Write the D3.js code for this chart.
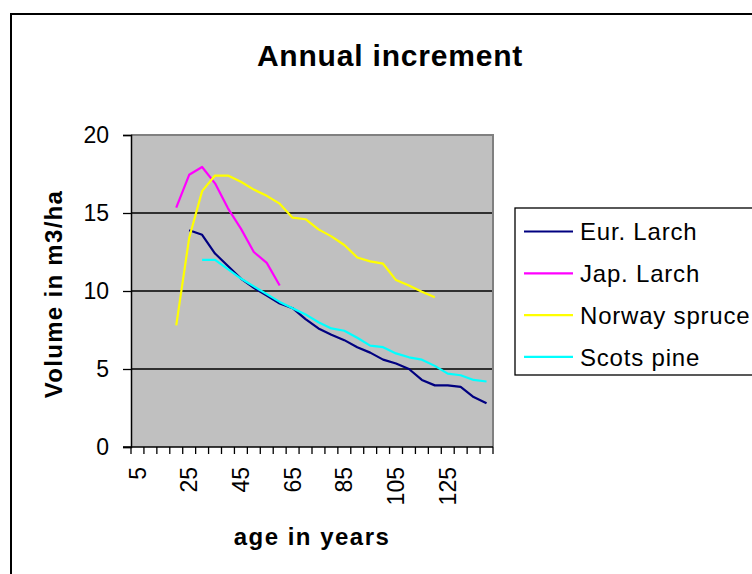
<!DOCTYPE html>
<html>
<head>
<meta charset="utf-8">
<script src="https://d3js.org/d3.v7.min.js"></script>
<style>
  body { margin: 0; background: #fff; }
  text { font-family: Arial, "Liberation Sans", sans-serif; fill: #000; }
</style>
</head>
<body>
<script>
// categories (age in years)
var ages = [5, 10, 15, 20, 25, 30, 35, 40, 45, 50, 55, 60, 65, 70,
            75, 80, 85, 90, 95, 100, 105, 110, 115, 120, 125, 130, 135, 140];
var ageLabels = ['5', '25', '45', '65', '85', '105', '125'];
var yTicks = [0, 5, 10, 15, 20];

// series values, null = no value
var eurLarch = [null, null, null, null, 13.9, 13.6, 12.4, 11.6, 10.8, 10.2, 9.7, 9.2, 8.9, 8.2,
                7.6, 7.2, 6.85, 6.4, 6.05, 5.6, 5.35, 5.0, 4.3, 3.95, 3.95, 3.85, 3.2, 2.8];
var japLarch = [null, null, null, 15.35, 17.45, 17.95, 16.9, 15.3, 14.0, 12.5, 11.8, 10.35, null, null,
                null, null, null, null, null, null, null, null, null, null, null, null, null, null];
var norwaySpruce = [null, null, null, 7.8, 13.4, 16.4, 17.4, 17.4, 17.0, 16.5, 16.1, 15.6, 14.7, 14.6,
                    13.95, 13.5, 12.95, 12.15, 11.9, 11.75, 10.7, 10.35, 9.95, 9.6, null, null, null, null];
var scotsPine = [null, null, null, null, null, 12.0, 12.0, 11.4, 10.8, 10.3, 9.8, 9.3, 8.9, 8.5,
                 8.0, 7.6, 7.45, 7.0, 6.5, 6.4, 6.0, 5.75, 5.6, 5.2, 4.7, 4.6, 4.3, 4.2];

var seriesNames = ['Eur. Larch', 'Jap. Larch', 'Norway spruce', 'Scots pine'];
var seriesColors = ['#000080', '#FF00FF', '#FFFF00', '#00FFFF'];
var seriesValues = [eurLarch, japLarch, norwaySpruce, scotsPine];

var w = 752, h = 574;
var plot = {left: 131, top: 135, right: 493, bottom: 447};

var svg = d3.select('body').append('svg')
  .attr('width', w)
  .attr('height', h);

// outer chart frame (runs off the right and bottom edges)
svg.append('rect')
  .attr('x', 11).attr('y', 14)
  .attr('width', 800).attr('height', 600)
  .attr('fill', '#fff')
  .attr('stroke', '#000')
  .attr('stroke-width', 2);

var x = d3.scaleBand().domain(ages).range([plot.left, plot.right]);
var y = d3.scaleLinear().domain([0, 20]).range([plot.bottom, plot.top]);

// plot area
svg.append('rect')
  .attr('x', plot.left).attr('y', plot.top)
  .attr('width', plot.right - plot.left)
  .attr('height', plot.bottom - plot.top)
  .attr('fill', '#C0C0C0');

// gridlines
svg.selectAll('.grid').data(yTicks.filter(function(d) { return d > 0 && d < 20; }))
  .enter().append('line')
  .attr('x1', plot.left).attr('x2', plot.right)
  .attr('y1', function(d) { return y(d); })
  .attr('y2', function(d) { return y(d); })
  .attr('stroke', '#000')
  .attr('stroke-width', 1.3);

// gray border top / right
svg.append('path')
  .attr('d', 'M' + plot.left + ',' + plot.top + 'H' + plot.right + 'V' + plot.bottom)
  .attr('fill', 'none')
  .attr('stroke', '#808080')
  .attr('stroke-width', 2);

// y axis
var yAxis = svg.append('g')
  .attr('transform', 'translate(' + plot.left + ',0)')
  .call(d3.axisLeft(y).tickValues(yTicks).tickSize(8).tickPadding(14).tickFormat(d3.format('d')));
yAxis.select('.domain').attr('stroke', '#000').attr('stroke-width', 1.5);
yAxis.selectAll('.tick line').attr('stroke', '#000').attr('stroke-width', 1.3);
yAxis.selectAll('.tick text')
  .style('font-family', 'Arial, "Liberation Sans", sans-serif')
  .style('font-size', '23px')
  .attr('fill', '#000');

// x axis: ticks at category boundaries
var bounds = ages.map(function(d) { return x(d); }).concat([plot.right]);
svg.selectAll('.xtick').data(bounds).enter().append('line')
  .attr('x1', function(d) { return d; })
  .attr('x2', function(d) { return d; })
  .attr('y1', plot.bottom)
  .attr('y2', plot.bottom + 7)
  .attr('stroke', '#000')
  .attr('stroke-width', 1.3);
svg.append('line')
  .attr('x1', plot.left - 8).attr('x2', plot.right)
  .attr('y1', plot.bottom).attr('y2', plot.bottom)
  .attr('stroke', '#000')
  .attr('stroke-width', 1.5);

svg.selectAll('.xlabel').data(ageLabels).enter().append('text')
  .attr('transform', function(d) {
    return 'translate(' + (x(+d) + x.bandwidth() / 2) + ',' + (plot.bottom + 20) + ') rotate(-90)';
  })
  .attr('text-anchor', 'end')
  .attr('dy', '0.35em')
  .style('font-size', '23px')
  .text(function(d) { return d; });

// lines
var line = d3.line()
  .defined(function(d) { return d != null; })
  .x(function(d, i) { return x(ages[i]) + x.bandwidth() / 2; })
  .y(function(d) { return y(d); });

svg.selectAll('.series').data(seriesValues).enter().append('path')
  .attr('d', function(d) { return line(d); })
  .attr('fill', 'none')
  .attr('stroke', function(d, i) { return seriesColors[i]; })
  .attr('stroke-width', 2.2)
  .attr('stroke-linejoin', 'round');

// titles
svg.append('text')
  .attr('x', 390).attr('y', 66)
  .attr('text-anchor', 'middle')
  .style('font-size', '30px')
  .style('font-weight', 'bold')
  .style('letter-spacing', '0.8px')
  .text('Annual increment');

svg.append('text')
  .attr('transform', 'translate(62,294) rotate(-90)')
  .attr('text-anchor', 'middle')
  .style('font-size', '24px')
  .style('font-weight', 'bold')
  .style('letter-spacing', '1.3px')
  .text('Volume in m3/ha');

svg.append('text')
  .attr('x', 312).attr('y', 545)
  .attr('text-anchor', 'middle')
  .style('font-size', '24px')
  .style('font-weight', 'bold')
  .style('letter-spacing', '1.5px')
  .text('age in years');

// legend
var legend = svg.append('g');
legend.append('rect')
  .attr('x', 515).attr('y', 208)
  .attr('width', 300).attr('height', 167)
  .attr('fill', '#fff')
  .attr('stroke', '#000')
  .attr('stroke-width', 1.3);

var rows = legend.selectAll('.row').data(seriesNames).enter().append('g')
  .attr('transform', function(d, i) { return 'translate(0,' + (231.5 + i * 41.8) + ')'; });
rows.append('line')
  .attr('x1', 524).attr('x2', 573)
  .attr('stroke', function(d, i) { return seriesColors[i]; })
  .attr('stroke-width', 2.2);
rows.append('text')
  .attr('x', 580)
  .attr('dy', '0.36em')
  .style('font-size', '24px')
  .style('letter-spacing', '0.8px')
  .text(function(d) { return d; });
</script>
</body>
</html>
